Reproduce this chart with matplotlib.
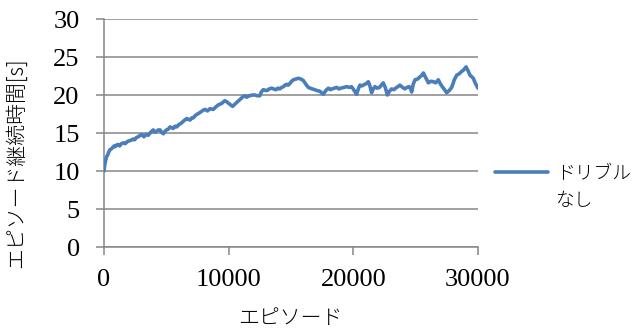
import matplotlib
matplotlib.use("Agg")
import matplotlib.pyplot as plt

# Episode index and mean episode duration [s]
episodes = [0, 60, 120, 210, 300, 350, 420, 480, 580, 700,
            820, 900, 1000, 1120, 1250, 1400, 1550, 1700, 1900, 2100,
            2350, 2450, 2600, 2750, 2900, 3050, 3200, 3380, 3550, 3750,
            3950, 4080, 4200, 4350, 4500, 4620, 4760, 4880, 5000, 5150,
            5300, 5420, 5550, 5700, 5830, 6000, 6200, 6400, 6630, 6780,
            6900, 7050, 7170, 7320, 7500, 7700, 7960, 8120, 8300, 8500,
            8760, 8950, 9170, 9300, 9450, 9580, 9700, 9850, 10000, 10150,
            10320, 10500, 10700, 10900, 11170, 11300, 11450, 11600, 11700, 11900,
            12100, 12300, 12500, 12620, 12780, 12950, 13100, 13250, 13450, 13600,
            13800, 13950, 14100, 14250, 14400, 14520, 14650, 14780, 14900, 15050,
            15190, 15400, 15590, 15800, 15990, 16200, 16390, 16550, 16700, 16900,
            17060, 17300, 17450, 17590, 17800, 18000, 18150, 18300, 18480, 18660,
            18850, 19000, 19250, 19460, 19700, 19850, 19990, 20100, 20260, 20400,
            20530, 20700, 20900, 21050, 21200, 21330, 21470, 21600, 21740, 21900,
            22100, 22250, 22400, 22560, 22730, 22900, 23070, 23250, 23400, 23570,
            23740, 23950, 24140, 24300, 24470, 24580, 24680, 24800, 24950, 25150,
            25350, 25500, 25620, 25800, 26020, 26200, 26420, 26600, 26820, 27000,
            27220, 27350, 27490, 27700, 27890, 28100, 28290, 28500, 28690, 28850,
            29040, 29200, 29360, 29500, 29620, 29800, 30000]
duration = [10.0, 10.8, 11.3, 11.9, 12.1, 12.4, 12.6, 12.8, 12.9, 13.1,
            13.3, 13.2, 13.4, 13.5, 13.3, 13.6, 13.7, 13.6, 13.9, 14.0,
            14.2, 14.1, 14.4, 14.5, 14.7, 14.8, 14.5, 14.8, 14.7, 15.1,
            15.4, 15.1, 15.2, 15.4, 15.4, 15.1, 14.9, 15.2, 15.4, 15.5,
            15.8, 15.7, 15.6, 15.9, 15.8, 16.1, 16.3, 16.6, 16.9, 16.8,
            16.7, 17.0, 17.0, 17.3, 17.5, 17.7, 18.0, 18.1, 17.9, 18.2,
            18.1, 18.4, 18.7, 18.8, 18.9, 19.1, 19.25, 19.1, 18.9, 18.7,
            18.5, 18.8, 19.1, 19.4, 19.8, 19.9, 19.7, 19.9, 19.9, 20.0,
            20.0, 19.9, 19.9, 20.4, 20.7, 20.6, 20.6, 20.8, 20.9, 20.8,
            20.7, 20.9, 20.8, 21.0, 21.1, 21.3, 21.4, 21.3, 21.5, 21.8,
            22.0, 22.1, 22.2, 22.1, 21.9, 21.4, 21.0, 20.9, 20.8, 20.7,
            20.6, 20.5, 20.3, 20.1, 20.6, 20.9, 20.7, 20.8, 20.9, 21.0,
            20.8, 20.9, 21.0, 21.1, 21.0, 21.1, 20.8, 20.5, 20.1, 20.8,
            21.3, 21.2, 21.4, 21.5, 21.75, 21.2, 20.3, 20.8, 21.1, 20.9,
            21.0, 21.3, 21.6, 21.0, 20.0, 20.5, 20.8, 20.7, 20.9, 21.1,
            21.3, 21.0, 20.8, 21.0, 21.1, 20.9, 20.4, 21.4, 22.0, 22.1,
            22.4, 22.6, 22.9, 22.3, 21.6, 21.8, 21.75, 21.6, 22.0, 21.4,
            20.9, 20.6, 20.3, 20.6, 21.0, 22.0, 22.6, 22.8, 23.1, 23.3,
            23.7, 23.2, 22.6, 22.4, 22.2, 21.5, 20.9]
series_label = ["ドリブル", "なし"]
x_ticks = [0, 10000, 20000, 30000]
y_ticks = [0, 5, 10, 15, 20, 25, 30]
x_label = "エピソード"
y_label = "エピソード継続時間[s]"

JP = ["Noto Sans CJK JP", "DejaVu Sans"]
NUM = ["Liberation Serif", "DejaVu Serif"]
GRAY = "#868686"
BLUE = "#4A7EBB"
W, H = 639, 329

fig = plt.figure(figsize=(W / 100, H / 100), dpi=100)
ax = fig.add_axes([104 / W, 1 - 247 / H, 374 / W, 228 / H])

line, = ax.plot(episodes, duration, color=BLUE, lw=2.6, solid_joinstyle="round",
                solid_capstyle="round", zorder=3)

ax.set_xlim(0, 30000)
ax.set_ylim(0, 30)
ax.set_xticks(x_ticks)
ax.set_yticks(y_ticks)
ax.set_xticklabels([str(v) for v in x_ticks], fontfamily=NUM, fontsize=19)
ax.set_yticklabels([str(v) for v in y_ticks], fontfamily=NUM, fontsize=19)

ax.yaxis.grid(True, color=GRAY, lw=1.1)
ax.set_axisbelow(True)
for s in ("top", "right"):
    ax.spines[s].set_visible(False)
for s in ("left", "bottom"):
    ax.spines[s].set_color(GRAY)
    ax.spines[s].set_linewidth(1.1)
ax.tick_params(axis="both", direction="out", length=5.5, width=1.1, color=GRAY)
ax.tick_params(axis="x", pad=10)
ax.tick_params(axis="y", pad=12)

ax.set_xlabel(x_label, fontfamily=JP, fontsize=15, fontweight="light")
ax.xaxis.set_label_coords((290 - 104) / 374, (247 - 307) / 228)
ax.set_ylabel(y_label, fontfamily=JP, fontsize=15, fontweight="light")
ax.yaxis.set_label_coords((27 - 104) / 374, (247 - 163) / 228)

# Legend: handle beside the first line of the wrapped series name
fs_leg = 13.5
fig.legend(handles=[line], labels=[series_label[0]], loc="center left",
           bbox_to_anchor=(495 / W, 1 - 174 / H), frameon=False,
           borderpad=0, borderaxespad=0,
           prop={"family": JP, "size": fs_leg, "weight": "light"},
           handlelength=53 / (fs_leg * 100 / 72),
           handletextpad=8 / (fs_leg * 100 / 72))
fig.text(555 / W, 1 - 201 / H, series_label[1], fontfamily=JP, fontsize=fs_leg,
         fontweight="light", ha="left", va="center")

fig.savefig("out.png", dpi=100)
